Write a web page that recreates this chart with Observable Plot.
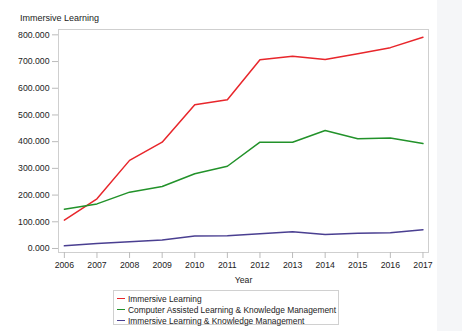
<!DOCTYPE html>
<html>
<head>
<meta charset="utf-8">
<script src="https://cdn.jsdelivr.net/npm/d3@7"></script>
<script src="https://cdn.jsdelivr.net/npm/@observablehq/plot@0.6"></script>
<style>
  body { margin: 0; background: #fff; font-family: "Liberation Sans", Arial, sans-serif; }
  #wrap { position: relative; width: 462px; height: 331px; overflow: hidden; }
  #title { position: absolute; left: 20px; top: 13px; font-size: 9px; color: #222; }
  #chart { position: absolute; left: 0; top: 25px; }
  #legend { position: absolute; left: 113px; top: 290px; width: 226px; height: 35px; border: 1px solid #d0d0d0; box-sizing: border-box; padding: 2px 0 0 3px; font-size: 8.4px; color: #222; }
  .item { display: flex; align-items: center; height: 11px; white-space: nowrap; }
  .sw { flex: 0 0 8px; width: 8px; height: 0; border-top: 1.5px solid; margin-right: 3px; }
  #edge { position: absolute; left: 437px; top: 0; width: 25px; height: 331px; background: #f5f6f8; }
</style>
</head>
<body>
<div id="wrap">
  <div id="title">Immersive Learning</div>
  <div id="chart"></div>
  <div id="legend"></div>
  <div id="edge"></div>
</div>
<script>
const years = [2006, 2007, 2008, 2009, 2010, 2011, 2012, 2013, 2014, 2015, 2016, 2017];
const seriesNames = ["Immersive Learning", "Computer Assisted Learning & Knowledge Management", "Immersive Learning & Knowledge Management"];
const immersive = [106, 186, 330, 398, 538, 557, 707, 720, 708, 729, 752, 791];
const computerAssisted = [147, 167, 211, 232, 280, 308, 398, 398, 442, 411, 414, 393];
const immersiveKM = [10, 19, 25, 32, 47, 48, 55, 63, 52, 57, 59, 70];
const colors = ["#e8262b", "#22922a", "#4a3f91"];
const yTicks = [0, 100, 200, 300, 400, 500, 600, 700, 800];

const allValues = [immersive, computerAssisted, immersiveKM];
const data = [];
allValues.forEach((vals, i) => vals.forEach((v, j) => data.push({year: years[j], value: v, series: seriesNames[i]})));

const chart = Plot.plot({
  width: 462,
  height: 260,
  marginTop: 4,
  marginBottom: 33,
  marginLeft: 58,
  marginRight: 34,
  style: {fontFamily: "Liberation Sans, Arial, sans-serif", fontSize: "8.7px", color: "#333", background: "transparent"},
  x: {domain: [2005.82, 2017.17], label: "Year"},
  y: {domain: [-15, 820], label: null},
  color: {domain: seriesNames, range: colors},
  marks: [
    Plot.frame({stroke: "#cfcfcf"}),
    Plot.axisX({ticks: years, tickFormat: d => String(d), tickSize: 6, stroke: "#bbb", label: "Year", labelAnchor: "center", labelArrow: "none", labelOffset: 30, fill: "#222"}),
    Plot.axisY({ticks: yTicks, tickFormat: d => d.toFixed(3), tickSize: 6, tickPadding: 3, stroke: "#bbb", label: null, fill: "#222"}),
    Plot.line(data, {x: "year", y: "value", z: "series", stroke: "series", strokeWidth: 1.5})
  ]
});
document.getElementById("chart").appendChild(chart);

const legend = document.getElementById("legend");
seriesNames.forEach((name, i) => {
  const item = document.createElement("div");
  item.className = "item";
  const sw = document.createElement("span");
  sw.className = "sw";
  sw.style.borderTopColor = colors[i];
  const t = document.createElement("span");
  t.textContent = name;
  item.appendChild(sw);
  item.appendChild(t);
  legend.appendChild(item);
});
</script>
</body>
</html>
